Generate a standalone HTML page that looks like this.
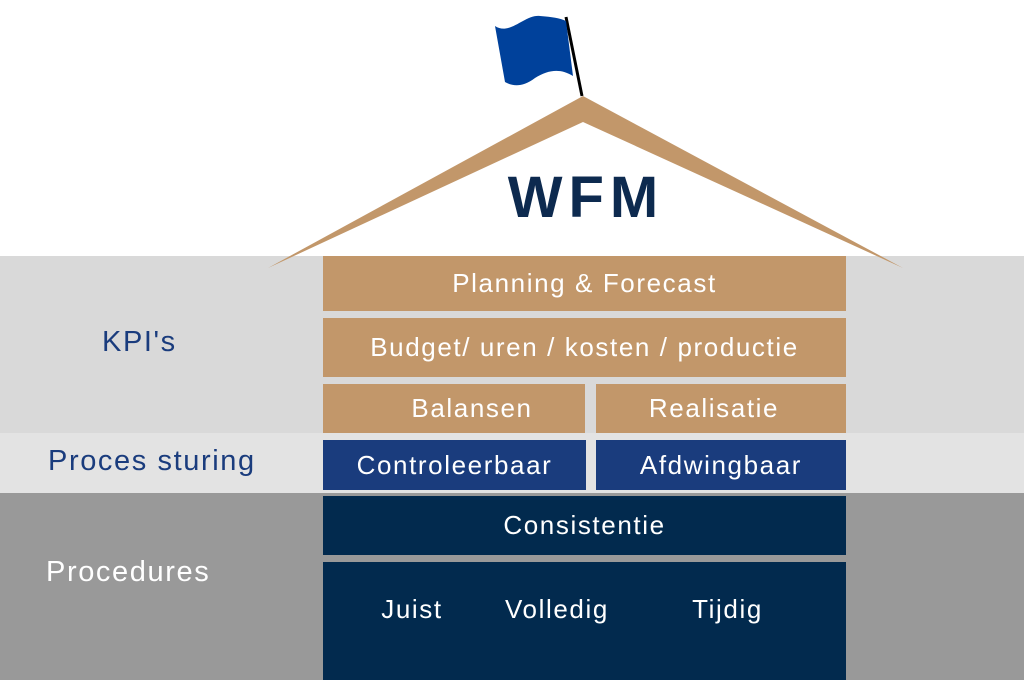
<!DOCTYPE html>
<html><head><style>
body{margin:0;width:1024px;height:680px;position:relative;overflow:hidden;background:#fff;font-family:"Liberation Sans",sans-serif}
.a{position:absolute}
.b{position:absolute;display:flex;align-items:center;justify-content:center;color:#fff;font-size:26px;letter-spacing:1.6px}
.t{background:#c2976a}.m{background:#1a3c7d}.d{background:#022a4e}
.l{position:absolute;font-size:29px;letter-spacing:1.6px;white-space:nowrap}
</style></head><body>
<div class="a" style="left:0;top:256px;width:1024px;height:177px;background:#d9d9d9"></div>
<div class="a" style="left:0;top:433px;width:1024px;height:60px;background:#e3e3e3"></div>
<div class="a" style="left:0;top:493px;width:1024px;height:187px;background:#999"></div>
<svg class="a" style="left:0;top:0" width="1024" height="280">
<polygon points="583,96 903,268 583,122 268,268" fill="#c2976a"/>
<line x1="566" y1="17" x2="582" y2="96" stroke="#000" stroke-width="3"/>
<path d="M495,26 C510,36 525,14 540,16 C552,17 560,18 566,21 L573,76 C560,68 548,70 535,78 C522,88 512,86 505,82 Z" fill="#00419b"/>
<text x="586" y="217" text-anchor="middle" font-family="Liberation Sans" font-weight="bold" font-size="58" fill="#0d2a4f" letter-spacing="6">WFM</text>
</svg>
<div class="b t" style="left:323px;top:256px;width:523px;height:55px">Planning &amp; Forecast</div>
<div class="b t" style="left:323px;top:318px;width:523px;height:59px">Budget/ uren / kosten / productie</div>
<div class="b t" style="left:323px;top:384px;width:298px;height:49px;width:298px;left:323px;clip-path:inset(0 36px 0 0)">Balansen</div>
<div class="b t" style="left:596px;top:384px;width:236px;height:49px">Realisatie</div>
<div class="a t" style="left:800px;top:384px;width:46px;height:49px"></div>
<div class="b m" style="left:323px;top:440px;width:263px;height:50px">Controleerbaar</div>
<div class="b m" style="left:596px;top:440px;width:250px;height:50px">Afdwingbaar</div>
<div class="b d" style="left:323px;top:496px;width:523px;height:59px">Consistentie</div>
<div class="a d" style="left:323px;top:562px;width:523px;height:118px"></div>
<div class="b" style="left:372px;top:592px;width:80px;height:34px">Juist</div>
<div class="b" style="left:497px;top:592px;width:120px;height:34px">Volledig</div>
<div class="b" style="left:680px;top:592px;width:95px;height:34px">Tijdig</div>
<div class="l" style="left:102px;top:326px;color:#1a3c7d">KPI's</div>
<div class="l" style="left:48px;top:445px;color:#1a3c7d">Proces sturing</div>
<div class="l" style="left:46px;top:556px;color:#fff">Procedures</div>
</body></html>
